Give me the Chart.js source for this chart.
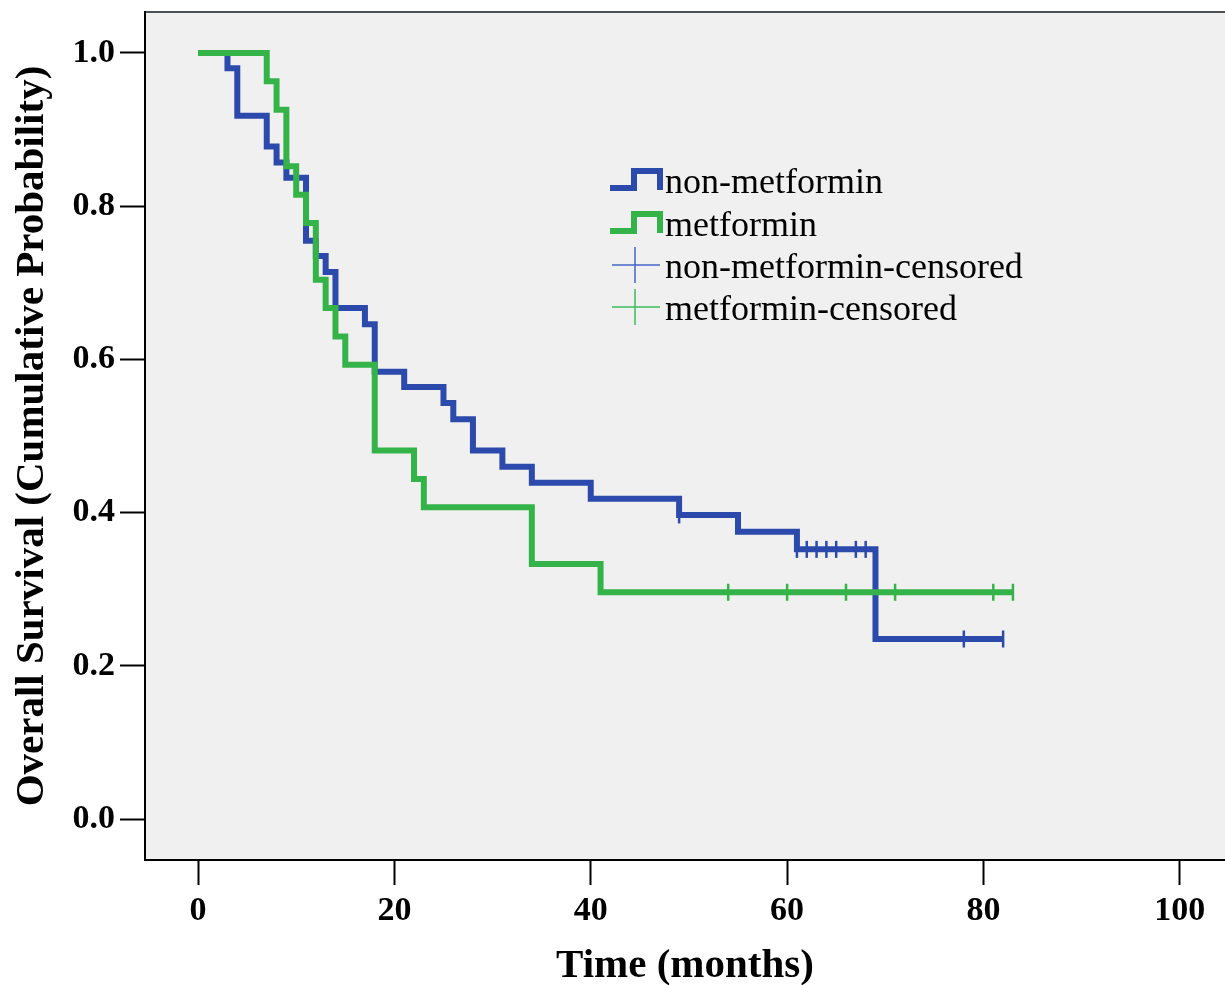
<!DOCTYPE html>
<html>
<head>
<meta charset="UTF-8">
<title>Overall Survival - metformin vs non-metformin</title>
<script src="https://cdn.jsdelivr.net/npm/chart.js"></script>
<style>
    body { margin: 0; background: #fff; }
    canvas { display: block; }
</style>
</head>
<body>
<canvas id="kmChart" width="1225" height="985"></canvas>
<script>
// Kaplan-Meier steps: time (months) and survival after each drop
var nonMetTimes = [0, 3, 4, 7, 8, 9, 11, 12, 13, 14, 17, 18, 21, 25, 26, 28, 31, 34, 40, 49, 55, 61, 69, 82];
var nonMetSurv  = [1.0, 0.980, 0.918, 0.878, 0.857, 0.837, 0.755, 0.735, 0.714, 0.667, 0.646, 0.584,
                   0.564, 0.543, 0.522, 0.481, 0.460, 0.439, 0.418, 0.397, 0.375, 0.352, 0.235, 0.235];

var metTimes = [0, 7, 8, 9, 10, 11, 12, 13, 14, 15, 18, 22, 23, 34, 41, 83];
var metSurv  = [1.0, 0.963, 0.926, 0.852, 0.815, 0.778, 0.704, 0.667, 0.630, 0.593, 0.481, 0.444, 0.407, 0.333, 0.296, 0.296];

// censored observations
var nonMetCensTimes = [49, 61, 62, 63, 64, 65, 67, 68, 78, 82];
var nonMetCensSurv  = [0.397, 0.352, 0.352, 0.352, 0.352, 0.352, 0.352, 0.352, 0.235, 0.235];
var metCensTimes = [54, 60, 66, 71, 81, 83];
var metCensSurv  = [0.296, 0.296, 0.296, 0.296, 0.296, 0.296];

var xTickValues = [0, 20, 40, 60, 80, 100];
var yTickValues = [0, 0.2, 0.4, 0.6, 0.8, 1.0];
var legendLabels = ['non-metformin', 'metformin', 'non-metformin-censored', 'metformin-censored'];

var blue = 'rgb(44,74,172)';
var green = 'rgb(52,180,72)';
var serif = '"Liberation Serif", "Times New Roman", serif';

function toPoints(xs, ys) {
    return xs.map(function(x, i) { return { x: x, y: ys[i] }; });
}

// keep the plot frame where it is in the figure: no extra label padding
function noPadding(s) {
    s.paddingTop = 0; s.paddingBottom = 0; s.paddingLeft = 0; s.paddingRight = 0;
}

// grey plot panel + top frame line
var panelPlugin = {
    id: 'panel',
    beforeDraw: function(chart) {
        var c = chart.ctx, a = chart.chartArea;
        c.save();
        c.fillStyle = '#ffffff';
        c.fillRect(0, 0, chart.width, chart.height);
        c.fillStyle = '#f0f0f0';
        c.fillRect(a.left, a.top, a.right - a.left, a.bottom - a.top);
        c.strokeStyle = '#4a5258';
        c.lineWidth = 2;
        c.beginPath();
        c.moveTo(a.left, a.top);
        c.lineTo(a.right, a.top);
        c.stroke();
        c.restore();
    }
};

// SPSS style legend inside the plot
var legendPlugin = {
    id: 'kmLegend',
    afterDraw: function(chart) {
        var c = chart.ctx;
        var baselines = [193, 236, 278, 320];
        var colors = [blue, green, 'rgb(70,100,200)', 'rgb(60,190,90)'];
        c.save();
        c.font = '36px ' + serif;
        c.textAlign = 'left';
        c.textBaseline = 'alphabetic';
        for (var i = 0; i < legendLabels.length; i++) {
            var y = baselines[i];
            c.strokeStyle = colors[i];
            c.beginPath();
            if (i < 2) {
                c.lineWidth = 6;
                c.lineJoin = 'miter';
                c.moveTo(610, y - 5);
                c.lineTo(634, y - 5);
                c.lineTo(634, y - 22);
                c.lineTo(660, y - 22);
                c.lineTo(660, y - 3);
            } else {
                c.lineWidth = 1.5;
                c.moveTo(612, y - 13);
                c.lineTo(660, y - 13);
                c.moveTo(635, y - 31);
                c.lineTo(635, y + 5);
            }
            c.stroke();
            c.fillStyle = '#000';
            c.fillText(legendLabels[i], 665, y);
        }
        c.restore();
    }
};

var tickFont = { family: serif, size: 34, weight: 'bold' };
var titleFont = { family: serif, size: 41, weight: 'bold', lineHeight: 1 };

new Chart(document.getElementById('kmChart'), {
    type: 'line',
    data: {
        datasets: [
            {
                label: 'metformin',
                data: toPoints(metTimes, metSurv),
                borderColor: green,
                borderWidth: 6,
                stepped: true,
                pointRadius: 0,
                fill: false,
                borderJoinStyle: 'miter',
                order: 1
            },
            {
                label: 'non-metformin',
                data: toPoints(nonMetTimes, nonMetSurv),
                borderColor: blue,
                borderWidth: 6,
                stepped: true,
                pointRadius: 0,
                fill: false,
                borderJoinStyle: 'miter',
                order: 2
            },
            {
                type: 'scatter',
                label: 'non-metformin-censored',
                data: toPoints(nonMetCensTimes, nonMetCensSurv),
                showLine: false,
                pointStyle: 'line',
                pointRotation: 90,
                pointRadius: 8.5,
                pointBorderColor: blue,
                pointBorderWidth: 2.5,
                order: 0
            },
            {
                type: 'scatter',
                label: 'metformin-censored',
                data: toPoints(metCensTimes, metCensSurv),
                showLine: false,
                pointStyle: 'line',
                pointRotation: 90,
                pointRadius: 8.5,
                pointBorderColor: green,
                pointBorderWidth: 2.5,
                order: 0
            }
        ]
    },
    options: {
        responsive: false,
        animation: false,
        devicePixelRatio: 1,
        layout: { autoPadding: false, padding: { top: 12, left: 0, right: 0, bottom: 0 } },
        plugins: {
            legend: { display: false },
            tooltip: { enabled: false }
        },
        scales: {
            x: {
                type: 'linear',
                min: -5.4,
                max: 104.6,
                afterBuildTicks: function(s) { s.ticks = xTickValues.map(function(v) { return { value: v }; }); },
                afterFit: function(s) { s.height = 125; noPadding(s); },
                grid: { drawOnChartArea: false, drawTicks: true, tickLength: 25, tickColor: '#000', tickWidth: 2 },
                border: { display: true, color: '#000', width: 2 },
                ticks: { color: '#000', font: tickFont, padding: 6, maxRotation: 0 },
                title: { display: true, text: 'Time (months)', color: '#000', font: titleFont, padding: { top: 0, bottom: -2 } }
            },
            y: {
                type: 'linear',
                min: -0.0535,
                max: 1.0535,
                afterBuildTicks: function(s) { s.ticks = yTickValues.map(function(v) { return { value: v }; }); },
                afterFit: function(s) { s.width = 145; noPadding(s); },
                grid: { drawOnChartArea: false, drawTicks: true, tickLength: 25, tickColor: '#000', tickWidth: 2 },
                border: { display: true, color: '#000', width: 2 },
                ticks: {
                    color: '#000',
                    font: tickFont,
                    padding: 5,
                    callback: function(v) { return Number(v).toFixed(1); }
                },
                title: { display: true, text: 'Overall Survival (Cumulative Probability)', color: '#000', font: titleFont, padding: { top: 12, bottom: 0 } }
            }
        }
    },
    plugins: [panelPlugin, legendPlugin]
});
</script>
</body>
</html>
